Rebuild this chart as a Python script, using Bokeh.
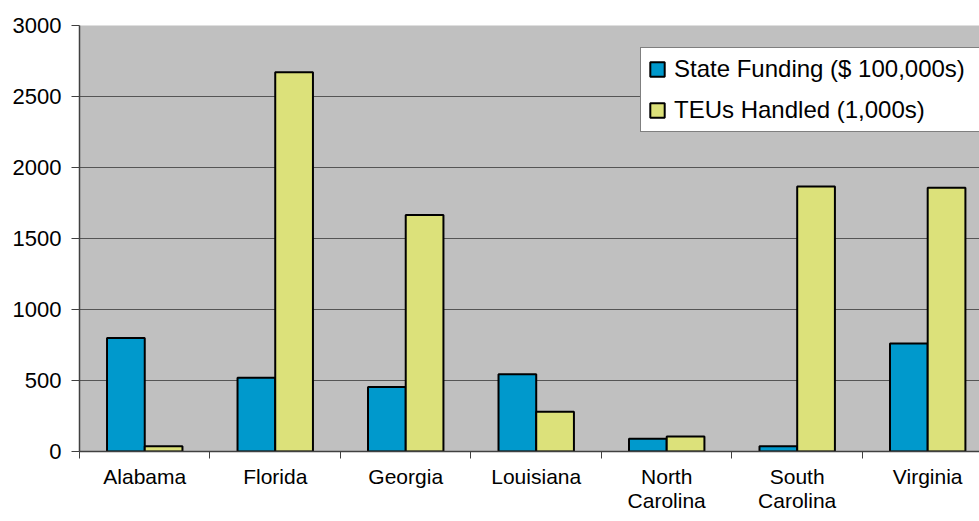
import numpy as np
from bokeh.plotting import figure
from bokeh.models import Range1d, FixedTicker, Legend, LegendItem
from bokeh.embed import file_html
from bokeh.resources import INLINE

# ---- data ----
states = ["Alabama", "Florida", "Georgia", "Louisiana", "North\nCarolina", "South\nCarolina", "Virginia"]
state_funding = [800, 520, 455, 544, 89, 37, 760]        # $ 100,000s
teus_handled = [37, 2670, 1665, 280, 106, 1866, 1857]     # 1,000s
y_ticks = [0, 500, 1000, 1500, 2000, 2500, 3000]
series_names = ["State Funding ($ 100,000s)", "TEUs Handled (1,000s)"]

FONT = "Liberation Sans"
BLUE = "#0099CC"
YELLOW = "#DCE17A"

n = len(states)
centers = np.arange(n) + 0.5
bw = 0.289

p = figure(width=979, height=521, output_backend="svg", toolbar_location=None,
           x_range=Range1d(0, 6.897), y_range=Range1d(0, 3000),
           min_border_left=79, min_border_right=0, min_border_top=25, min_border_bottom=70)
p.outline_line_color = None
p.background_fill_color = "#C0C0C0"
p.border_fill_color = "white"

r1 = p.vbar(x=centers - bw / 2, top=state_funding, width=bw, bottom=0,
            fill_color=BLUE, line_color="black", line_width=2)
r2 = p.vbar(x=centers + bw / 2, top=teus_handled, width=bw, bottom=0,
            fill_color=YELLOW, line_color="black", line_width=2)

# grid
p.xgrid.grid_line_color = None
p.ygrid.ticker = FixedTicker(ticks=y_ticks)
p.ygrid.grid_line_color = "#555555"
p.ygrid.grid_line_width = 1

# y axis
p.yaxis.ticker = FixedTicker(ticks=y_ticks)
p.yaxis.axis_line_color = "#404040"
p.yaxis.axis_line_width = 1.5
p.yaxis.major_tick_line_color = "#404040"
p.yaxis.major_tick_out = 8
p.yaxis.major_tick_in = 0
p.yaxis.minor_tick_line_color = None
p.yaxis.major_label_standoff = 10
p.yaxis.major_label_text_font = FONT
p.yaxis.major_label_text_font_size = "22px"
p.yaxis.major_label_text_color = "black"

# x axis
p.xaxis.ticker = FixedTicker(ticks=list(centers), minor_ticks=list(range(n + 1)))
p.xaxis.major_label_overrides = {float(c): s for c, s in zip(centers, states)}
p.xaxis.axis_line_color = "#404040"
p.xaxis.axis_line_width = 1.5
p.xaxis.major_tick_line_color = None
p.xaxis.major_tick_out = 0
p.xaxis.major_tick_in = 0
p.xaxis.minor_tick_line_color = "#404040"
p.xaxis.minor_tick_out = 7
p.xaxis.minor_tick_in = 0
p.xaxis.major_label_standoff = 6
p.xaxis.major_label_text_font = FONT
p.xaxis.major_label_text_font_size = "21px"
p.xaxis.major_label_text_line_height = 1.05
p.xaxis.major_label_text_color = "black"

legend = Legend(items=[LegendItem(label=series_names[0], renderers=[r1]),
                       LegendItem(label=series_names[1], renderers=[r2])],
                location=(561, 319))
legend.label_text_font = FONT
legend.label_text_font_size = "24px"
legend.label_text_color = "black"
legend.glyph_width = 18
legend.glyph_height = 18
legend.label_height = 28
legend.label_width = 300
legend.label_standoff = 8
legend.padding = 7
legend.spacing = 13
legend.margin = 0
legend.border_line_color = "black"
legend.border_line_width = 1
legend.background_fill_color = "white"
legend.background_fill_alpha = 1
p.add_layout(legend)

open("out.html", "w").write(file_html(p, INLINE))
